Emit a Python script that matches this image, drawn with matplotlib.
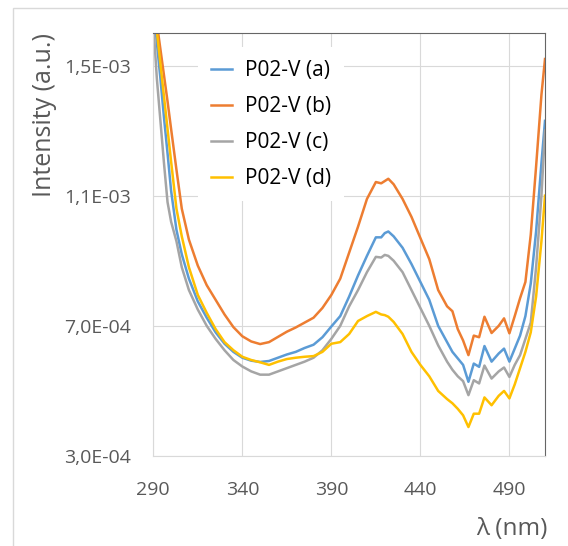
"""
Emission spectra of the P02-V samples.
"""

import matplotlib
matplotlib.use('Agg')
import matplotlib.pyplot as plt
from matplotlib.patches import Rectangle
from matplotlib.ticker import FuncFormatter

plt.rcParams['font.family'] = ['Open Sans', 'DejaVu Sans']

# wavelength grid (nm)
wavelength = [290, 292, 294, 296, 298, 300, 303, 306, 310, 315, 320, 325, 330, 335, 340,
              345, 350, 355, 360, 365, 370, 375, 380, 385, 390, 395, 400, 405, 410, 415,
              418, 420, 422, 425, 430, 435, 440, 445, 450, 455, 458, 461, 464, 467, 470,
              473, 476, 480, 484, 487, 490, 493, 496, 499, 502, 505, 508, 510]

# intensities, in units of 1E-04 a.u.
int_a = [16.85, 15.7, 14.6, 13.4, 12.3, 11.15, 9.95, 9.2, 8.45, 7.75, 7.25, 6.8, 6.45, 6.2, 6.02,
         5.93, 5.89, 5.92, 6.02, 6.12, 6.2, 6.32, 6.42, 6.65, 6.98, 7.3, 7.9, 8.55, 9.15, 9.72,
         9.72, 9.85, 9.9, 9.75, 9.4, 8.9, 8.35, 7.8, 7.0, 6.5, 6.2, 6.0, 5.8, 5.28, 5.84,
         5.74, 6.38, 5.9, 6.15, 6.3, 5.9, 6.3, 6.7, 7.3, 8.3, 9.9, 12.0, 13.3]
int_b = [17.15, 16.3, 15.5, 14.7, 13.9, 13.05, 11.8, 10.6, 9.65, 8.85, 8.25, 7.8, 7.35, 6.96, 6.68,
         6.52, 6.44, 6.5, 6.66, 6.82, 6.95, 7.1, 7.25, 7.55, 7.95, 8.45, 9.25, 10.05, 10.9, 11.42,
         11.38, 11.45, 11.52, 11.35, 10.9, 10.35, 9.7, 9.05, 8.1, 7.6, 7.45, 6.9, 6.55, 6.1, 6.7,
         6.65, 7.28, 6.78, 7.0, 7.23, 6.77, 7.3, 7.85, 8.35, 9.8, 11.9, 14.1, 15.2]
int_c = [16.3, 14.6, 13.3, 12.0, 10.8, 10.2, 9.6, 8.8, 8.1, 7.5, 7.0, 6.6, 6.25, 5.95, 5.75,
         5.6, 5.5, 5.5, 5.6, 5.7, 5.8, 5.9, 6.02, 6.25, 6.6, 7.0, 7.6, 8.1, 8.65, 9.12,
         9.1, 9.18, 9.15, 9.0, 8.65, 8.1, 7.55, 7.0, 6.4, 5.9, 5.65, 5.45, 5.3, 4.87, 5.33,
         5.23, 5.78, 5.38, 5.6, 5.72, 5.43, 5.8, 6.1, 6.6, 7.1, 8.8, 11.0, 13.0]
int_d = [17.05, 16.05, 15.05, 14.05, 13.05, 12.05, 10.6, 9.75, 8.8, 7.95, 7.4, 6.9, 6.5, 6.25, 6.05,
         5.95, 5.88, 5.8, 5.9, 5.98, 6.02, 6.05, 6.07, 6.2, 6.45, 6.5, 6.75, 7.15, 7.3, 7.43,
         7.35, 7.33, 7.28, 7.12, 6.75, 6.2, 5.8, 5.45, 5.0, 4.75, 4.62, 4.45, 4.25, 3.89, 4.3,
         4.3, 4.8, 4.56, 4.85, 5.0, 4.77, 5.2, 5.7, 6.2, 6.8, 7.9, 9.6, 11.0]

labels = ['P02-V (a)', 'P02-V (b)', 'P02-V (c)', 'P02-V (d)']
colors = ['#5B9BD5', '#ED7D31', '#A5A5A5', '#FFC000']
x_ticks = [290, 340, 390, 440, 490]
y_ticks = [3e-4, 7e-4, 1.1e-3, 1.5e-3]

W, H = 568, 546
fig = plt.figure(figsize=(W / 100, H / 100), dpi=100)
ax = fig.add_axes([153.3 / W, 1 - 456 / H, (545 - 153.3) / W, (456 - 33) / H])

for ys, lab, col in zip([int_a, int_b, int_c, int_d], labels, colors):
    ax.plot(wavelength, [v * 1e-4 for v in ys], color=col, lw=1.8, label=lab)

ax.set_xlim(290, 510)
ax.set_ylim(3e-4, 1.6e-3)
ax.set_xticks(x_ticks)
ax.set_yticks(y_ticks)
ax.yaxis.set_major_formatter(FuncFormatter(lambda v, p: f'{v:.1E}'.replace('.', ',')))
ax.grid(True, color='#D9D9D9', lw=0.8)
ax.set_axisbelow(True)
ax.tick_params(length=0, labelsize=14, colors='#595959')
ax.tick_params(axis='x', pad=18)
ax.tick_params(axis='y', pad=16)
for s in ['left', 'bottom']:
    ax.spines[s].set_color('#D9D9D9')
for s in ['top', 'right']:
    ax.spines[s].set_color('#666666')

leg = ax.legend(loc='upper left', bbox_to_anchor=(188 / W, 1 - 37 / H),
                bbox_transform=fig.transFigure, fontsize=15, frameon=True,
                facecolor='white', edgecolor='none', framealpha=1, fancybox=False,
                handlelength=1.0, handletextpad=0.65, labelspacing=0.72, borderpad=0.6)
for t in leg.get_texts():
    t.set_color('#000000')

fig.text(45 / W, 1 - 33 / H, 'Intensity (a.u.)', rotation=90, ha='center', va='top',
         fontsize=18, color='#595959')
fig.text(548 / W, 1 - 529 / H, 'λ (nm)', ha='right', va='center', fontsize=17.5, color='#595959')

fig.patches.append(Rectangle((13 / W, -0.1), 1.2, 1.1 - 8 / H, transform=fig.transFigure,
                             facecolor='none', edgecolor='#D9D9D9', lw=1))

fig.savefig('out.png', dpi=100)
